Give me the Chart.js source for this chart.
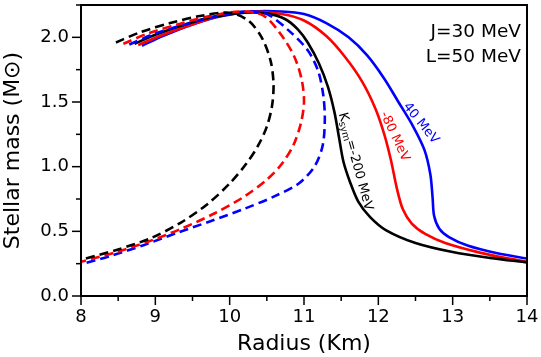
<!DOCTYPE html>
<html>
<head>
<meta charset="utf-8">
<script src="https://cdn.jsdelivr.net/npm/chart.js@4/dist/chart.umd.min.js"></script>
<style>
html,body{margin:0;padding:0;background:#fff;}
#wrap{width:541px;height:357px;}
</style>
</head>
<body>
<div id="wrap"><canvas id="c" width="541" height="357"></canvas></div>
<script>
// ---- data (radius in km, mass in solar masses) ----
const radiusBlackSolid = [8.72, 9.0, 9.4, 9.8, 10.2, 10.5, 10.75, 10.92, 11.05, 11.2, 11.32, 11.41, 11.47, 11.53, 11.62, 11.73, 11.89, 12.1, 12.5, 13.0, 13.5, 14.0];
const massBlackSolid   = [1.95, 2.02, 2.10, 2.16, 2.19, 2.185, 2.14, 2.06, 1.96, 1.80, 1.62, 1.42, 1.23, 1.04, 0.88, 0.73, 0.61, 0.51, 0.41, 0.34, 0.295, 0.26];

const radiusRedSolid = [8.77, 9.1, 9.5, 9.9, 10.3, 10.7, 11.0, 11.3, 11.55, 11.78, 11.96, 12.08, 12.17, 12.25, 12.33, 12.45, 12.63, 12.9, 13.3, 13.7, 14.0];
const massRedSolid   = [1.94, 2.02, 2.10, 2.17, 2.20, 2.18, 2.13, 2.01, 1.85, 1.66, 1.45, 1.25, 1.05, 0.83, 0.67, 0.56, 0.48, 0.41, 0.345, 0.295, 0.265];

const radiusBlueSolid = [8.82, 9.1, 9.5, 9.9, 10.3, 10.7, 11.0, 11.3, 11.6, 11.85, 12.08, 12.26, 12.46, 12.62, 12.7, 12.73, 12.75, 12.82, 12.95, 13.2, 13.6, 14.0];
const massBlueSolid   = [1.935, 2.01, 2.10, 2.165, 2.20, 2.20, 2.18, 2.11, 2.00, 1.86, 1.68, 1.51, 1.32, 1.13, 0.94, 0.76, 0.62, 0.52, 0.455, 0.39, 0.33, 0.29];

const radiusBlackDashed = [8.47, 8.8, 9.2, 9.6, 10.0, 10.25, 10.43, 10.55, 10.59, 10.57, 10.5, 10.38, 10.22, 10.0, 9.7, 9.35, 8.95, 8.5, 8.0];
const massBlackDashed   = [1.96, 2.04, 2.11, 2.165, 2.19, 2.13, 2.00, 1.82, 1.64, 1.47, 1.31, 1.16, 1.02, 0.87, 0.71, 0.57, 0.45, 0.36, 0.28];

const radiusRedDashed = [8.57, 8.9, 9.3, 9.7, 10.14, 10.45, 10.68, 10.87, 10.97, 11.0, 10.96, 10.86, 10.7, 10.5, 10.2, 9.8, 9.35, 8.9, 8.45, 8.0];
const massRedDashed   = [1.95, 2.03, 2.10, 2.16, 2.20, 2.17, 2.03, 1.85, 1.67, 1.50, 1.34, 1.17, 1.02, 0.90, 0.77, 0.64, 0.52, 0.42, 0.335, 0.265];

const radiusBlueDashed = [8.65, 9.0, 9.4, 9.8, 10.21, 10.5, 10.8, 11.05, 11.19, 11.26, 11.28, 11.25, 11.14, 10.93, 10.6, 10.2, 9.75, 9.3, 8.85, 8.4, 8.0];
const massBlueDashed   = [1.945, 2.03, 2.10, 2.16, 2.20, 2.18, 2.05, 1.90, 1.74, 1.55, 1.36, 1.16, 1.00, 0.87, 0.77, 0.675, 0.58, 0.49, 0.395, 0.31, 0.245];

const xTickValues = [8, 9, 10, 11, 12, 13, 14];
const yTickValues = [0.0, 0.5, 1.0, 1.5, 2.0];
const curveLabels = ['Ksym=-200 MeV', '-80 MeV', '40 MeV'];
const infoLines = ['J=30 MeV', 'L=50 MeV'];

function zip(xs, ys){ return xs.map((x,i)=>({x:x, y:ys[i]})); }

const BLUE = '#0000ff', RED = '#ff0000', BLACK = '#000000';
function ds(xs, ys, color, dashed){
  return {
    data: zip(xs, ys), borderColor: color, backgroundColor: color,
    borderWidth: 2.6, borderDash: dashed ? [9,5] : [], pointRadius: 0,
    showLine: true, fill: false, tension: 0.3, borderCapStyle: 'butt'
  };
}

const FONT = 'DejaVu Sans';

const decor = {
  id: 'decor',
  afterDatasetsDraw(chart){
    const ctx = chart.ctx, a = chart.chartArea;
    const xs = chart.scales.x, ys = chart.scales.y;
    ctx.save();
    ctx.strokeStyle = '#000'; ctx.lineWidth = 2;
    ctx.strokeRect(a.left, a.top, a.right - a.left, a.bottom - a.top);
    ctx.lineWidth = 1.5;
    for (let v = 8; v <= 14.001; v += 0.5){
      const p = xs.getPixelForValue(v);
      const major = Math.abs(v - Math.round(v)) < 1e-6;
      ctx.beginPath(); ctx.moveTo(p, a.bottom); ctx.lineTo(p, a.bottom + (major ? 9 : 5)); ctx.stroke();
    }
    for (let v = 0; v <= 2.25; v += 0.25){
      const p = ys.getPixelForValue(v);
      const major = Math.abs(v*2 - Math.round(v*2)) < 1e-6;
      ctx.beginPath(); ctx.moveTo(a.left, p); ctx.lineTo(a.left - (major ? 9 : 5), p); ctx.stroke();
    }
    ctx.fillStyle = '#000';
    ctx.font = '18.5px "' + FONT + '"';
    ctx.textAlign = 'right'; ctx.textBaseline = 'middle';
    ctx.fillText(infoLines[0], a.right - 6, 32);
    ctx.fillText(infoLines[1], a.right - 6, 57);
    // rotated labels; 'off' = shift (px) toward the glyph-top side
    function rot(text, xv, yv, ang, off, color, sub){
      const r = ang * Math.PI/180;
      const px = xs.getPixelForValue(xv) + off*Math.sin(r), py = ys.getPixelForValue(yv) - off*Math.cos(r);
      ctx.save();
      ctx.translate(px, py); ctx.rotate(r);
      ctx.fillStyle = color; ctx.textBaseline = 'middle';
      if (sub){
        const f1 = '13px "' + FONT + '"', f2 = '9.5px "' + FONT + '"';
        ctx.font = f1; const w1 = ctx.measureText('K').width;
        ctx.font = f2; const w2 = ctx.measureText('sym').width;
        ctx.font = f1; const w3 = ctx.measureText('=-200 MeV').width;
        let x0 = -(w1+w2+w3)/2;
        ctx.textAlign = 'left';
        ctx.font = f1; ctx.fillText('K', x0, 0);
        ctx.font = f2; ctx.fillText('sym', x0 + w1, 3);
        ctx.font = f1; ctx.fillText('=-200 MeV', x0 + w1 + w2, 0);
      } else {
        ctx.font = '13px "' + FONT + '"';
        ctx.textAlign = 'center';
        ctx.fillText(text, 0, 0);
      }
      ctx.restore();
    }
    rot(curveLabels[0], 11.69, 1.04, 74.6, 0, BLACK, true);
    rot(curveLabels[1], 12.17, 1.22, 65, 4, RED, false);
    rot(curveLabels[2], 12.52, 1.31, 51, 5, BLUE, false);
    ctx.restore();
  }
};

new Chart(document.getElementById('c'), {
  type: 'scatter',
  data: {
    datasets: [
      ds(radiusBlackDashed, massBlackDashed, BLACK, true),
      ds(radiusRedDashed, massRedDashed, RED, true),
      ds(radiusBlueDashed, massBlueDashed, BLUE, true),
      ds(radiusBlackSolid, massBlackSolid, BLACK, false),
      ds(radiusRedSolid, massRedSolid, RED, false),
      ds(radiusBlueSolid, massBlueSolid, BLUE, false)
    ]
  },
  options: {
    responsive: false, animation: false, devicePixelRatio: 1,
    layout: { padding: { top: 5, right: 14, left: 0, bottom: 0 } },
    plugins: { legend: { display: false }, tooltip: { enabled: false } },
    scales: {
      x: {
        type: 'linear', min: 8, max: 14,
        afterBuildTicks: s => { s.ticks = xTickValues.map(v => ({value: v})); },
        afterFit: s => { s.height = 61; s.paddingLeft = 0; s.paddingRight = 0; },
        grid: { display: true, drawOnChartArea: false, drawTicks: true, tickLength: 9, tickColor: 'rgba(0,0,0,0)' },
        border: { display: false },
        ticks: { color: '#000', font: { family: FONT, size: 18 }, padding: 2, maxRotation: 0, callback: v => String(v) },
        title: { display: true, text: 'Radius (Km)', color: '#000', font: { family: FONT, size: 22 }, padding: { top: 0, bottom: 0 } }
      },
      y: {
        type: 'linear', min: 0, max: 2.25,
        afterBuildTicks: s => { s.ticks = yTickValues.map(v => ({value: v})); },
        afterFit: s => { s.width = 81; s.paddingTop = 0; s.paddingBottom = 0; },
        grid: { display: true, drawOnChartArea: false, drawTicks: true, tickLength: 9, tickColor: 'rgba(0,0,0,0)' },
        border: { display: false },
        ticks: { color: '#000', font: { family: FONT, size: 18 }, padding: 3, callback: v => Number(v).toFixed(1) },
        title: { display: true, text: 'Stellar mass (M\u2299)', color: '#000', font: { family: FONT, size: 22 }, padding: { top: 0, bottom: 4 } }
      }
    }
  },
  plugins: [decor]
});
</script>
</body>
</html>
